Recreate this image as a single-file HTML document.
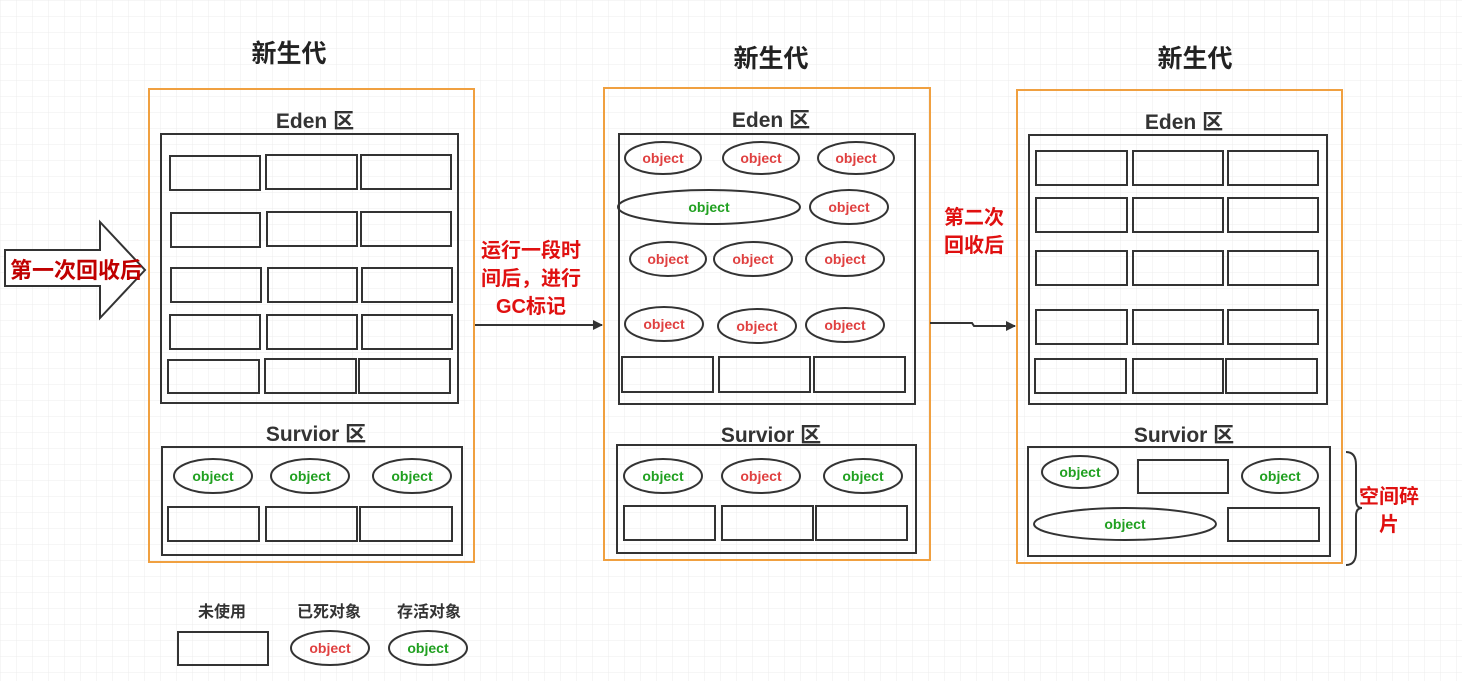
<!DOCTYPE html>
<html><head><meta charset="utf-8"><style>
html,body{margin:0;padding:0;background:#fff}
svg text{font-family:"Liberation Sans","Noto Sans CJK SC",sans-serif;font-weight:bold}
</style></head><body>
<svg width="1462" height="681" viewBox="0 0 1462 681" xmlns="http://www.w3.org/2000/svg">
<defs>
<pattern id="g" width="16" height="16" patternUnits="userSpaceOnUse"><path d="M16 0H0V16" fill="none" stroke="#ececec" stroke-width="1"/></pattern>
<marker id="ah" markerWidth="10" markerHeight="10" refX="9" refY="5" orient="auto" markerUnits="userSpaceOnUse"><path d="M0,0 L10,5 L0,10 z" fill="#333"/></marker>
</defs>
<rect width="1462" height="681" fill="url(#g)"/>
<g fill="none" stroke="#333" stroke-width="2">
<rect x="149" y="89" width="325" height="473" stroke="#f0a040"/>
<rect x="604" y="88" width="326" height="472" stroke="#f0a040"/>
<rect x="1017" y="90" width="325" height="473" stroke="#f0a040"/>
<rect x="161" y="134" width="297" height="269"/>
<rect x="162" y="447" width="300" height="108"/>
<rect x="619" y="134" width="296" height="270"/>
<rect x="617" y="445" width="299" height="108"/>
<rect x="1029" y="135" width="298" height="269"/>
<rect x="1028" y="447" width="302" height="109"/>
<rect x="170" y="156" width="90" height="34"/><rect x="266" y="155" width="91" height="34"/><rect x="361" y="155" width="90" height="34"/>
<rect x="171" y="213" width="89" height="34"/><rect x="267" y="212" width="90" height="34"/><rect x="361" y="212" width="90" height="34"/>
<rect x="171" y="268" width="90" height="34"/><rect x="268" y="268" width="89" height="34"/><rect x="362" y="268" width="90" height="34"/>
<rect x="170" y="315" width="90" height="34"/><rect x="267" y="315" width="90" height="34"/><rect x="362" y="315" width="90" height="34"/>
<rect x="168" y="360" width="91" height="33"/><rect x="265" y="359" width="91" height="34"/><rect x="359" y="359" width="91" height="34"/>
<rect x="168" y="507" width="91" height="34"/><rect x="266" y="507" width="91" height="34"/><rect x="360" y="507" width="92" height="34"/>
<rect x="622" y="357" width="91" height="35"/><rect x="719" y="357" width="91" height="35"/><rect x="814" y="357" width="91" height="35"/>
<rect x="624" y="506" width="91" height="34"/><rect x="722" y="506" width="91" height="34"/><rect x="816" y="506" width="91" height="34"/>
<rect x="1036" y="151" width="91" height="34"/><rect x="1133" y="151" width="90" height="34"/><rect x="1228" y="151" width="90" height="34"/>
<rect x="1036" y="198" width="91" height="34"/><rect x="1133" y="198" width="90" height="34"/><rect x="1228" y="198" width="90" height="34"/>
<rect x="1036" y="251" width="91" height="34"/><rect x="1133" y="251" width="90" height="34"/><rect x="1228" y="251" width="90" height="34"/>
<rect x="1036" y="310" width="91" height="34"/><rect x="1133" y="310" width="90" height="34"/><rect x="1228" y="310" width="90" height="34"/>
<rect x="1035" y="359" width="91" height="34"/><rect x="1133" y="359" width="90" height="34"/><rect x="1226" y="359" width="91" height="34"/>
<rect x="1138" y="460" width="90" height="33"/><rect x="1228" y="508" width="91" height="33"/>
<ellipse cx="213" cy="476" rx="39" ry="17"/><ellipse cx="310" cy="476" rx="39" ry="17"/><ellipse cx="412" cy="476" rx="39" ry="17"/>
<ellipse cx="663" cy="158" rx="38" ry="16"/><ellipse cx="761" cy="158" rx="38" ry="16"/><ellipse cx="856" cy="158" rx="38" ry="16"/>
<ellipse cx="709" cy="207" rx="91" ry="17"/><ellipse cx="849" cy="207" rx="39" ry="17"/>
<ellipse cx="668" cy="259" rx="38" ry="17"/><ellipse cx="753" cy="259" rx="39" ry="17"/><ellipse cx="845" cy="259" rx="39" ry="17"/>
<ellipse cx="664" cy="324" rx="39" ry="17"/><ellipse cx="757" cy="326" rx="39" ry="17"/><ellipse cx="845" cy="325" rx="39" ry="17"/>
<ellipse cx="663" cy="476" rx="39" ry="17"/><ellipse cx="761" cy="476" rx="39" ry="17"/><ellipse cx="863" cy="476" rx="39" ry="17"/>
<ellipse cx="1080" cy="472" rx="38" ry="16"/><ellipse cx="1280" cy="476" rx="38" ry="17"/><ellipse cx="1125" cy="524" rx="91" ry="16"/>
<rect x="178" y="632" width="90" height="33"/><ellipse cx="330" cy="648" rx="39" ry="17"/><ellipse cx="428" cy="648" rx="39" ry="17"/>
<path d="M5,250 H100 V222 L145,270 L100,318 V286 H5 Z" fill="#fff"/>
<path d="M475,325 H602" marker-end="url(#ah)"/>
<path d="M930,323 H972 L974,326 H1015" marker-end="url(#ah)"/>
<path d="M1346,452 Q1356,452 1356,465 V500 Q1356,508 1362,508 Q1356,508 1356,516 V552 Q1356,565 1346,565"/>
</g>
<g text-anchor="middle" fill="#222" font-size="25">
<text x="289" y="62">新生代</text><text x="771" y="67">新生代</text><text x="1195" y="67">新生代</text>
</g>
<g text-anchor="middle" fill="#333" font-size="21">
<text x="315" y="128">Eden 区</text><text x="771" y="127">Eden 区</text><text x="1184" y="129">Eden 区</text>
<text x="316" y="441">Survior  区</text><text x="771" y="442">Survior  区</text><text x="1184" y="442">Survior  区</text>
</g>
<g text-anchor="middle" font-size="14" fill="#e04040">
<text x="663" y="163">object</text><text x="761" y="163">object</text><text x="856" y="163">object</text>
<text x="849" y="212">object</text>
<text x="668" y="264">object</text><text x="753" y="264">object</text><text x="845" y="264">object</text>
<text x="664" y="329">object</text><text x="757" y="331">object</text><text x="845" y="330">object</text>
<text x="761" y="481">object</text><text x="330" y="653">object</text>
</g>
<g text-anchor="middle" font-size="14" fill="#20a020">
<text x="213" y="481">object</text><text x="310" y="481">object</text><text x="412" y="481">object</text>
<text x="709" y="212">object</text>
<text x="663" y="481">object</text><text x="863" y="481">object</text>
<text x="1080" y="477">object</text><text x="1280" y="481">object</text><text x="1125" y="529">object</text>
<text x="428" y="653">object</text>
</g>
<g text-anchor="middle" fill="#333" font-size="16">
<text x="222" y="617">未使用</text><text x="329" y="617">已死对象</text><text x="429" y="617">存活对象</text>
</g>
<g text-anchor="middle" font-size="20" fill="#e01010">
<text x="76" y="278" fill="#c00000" font-size="22">第一次回收后</text>
<text x="531" y="257">运行一段时</text><text x="531" y="285">间后，进行</text><text x="531" y="313">GC标记</text>
<text x="974" y="224">第二次</text><text x="974" y="252">回收后</text>
<text x="1389" y="503">空间碎</text><text x="1389" y="531">片</text>
</g>
</svg>
</body></html>
